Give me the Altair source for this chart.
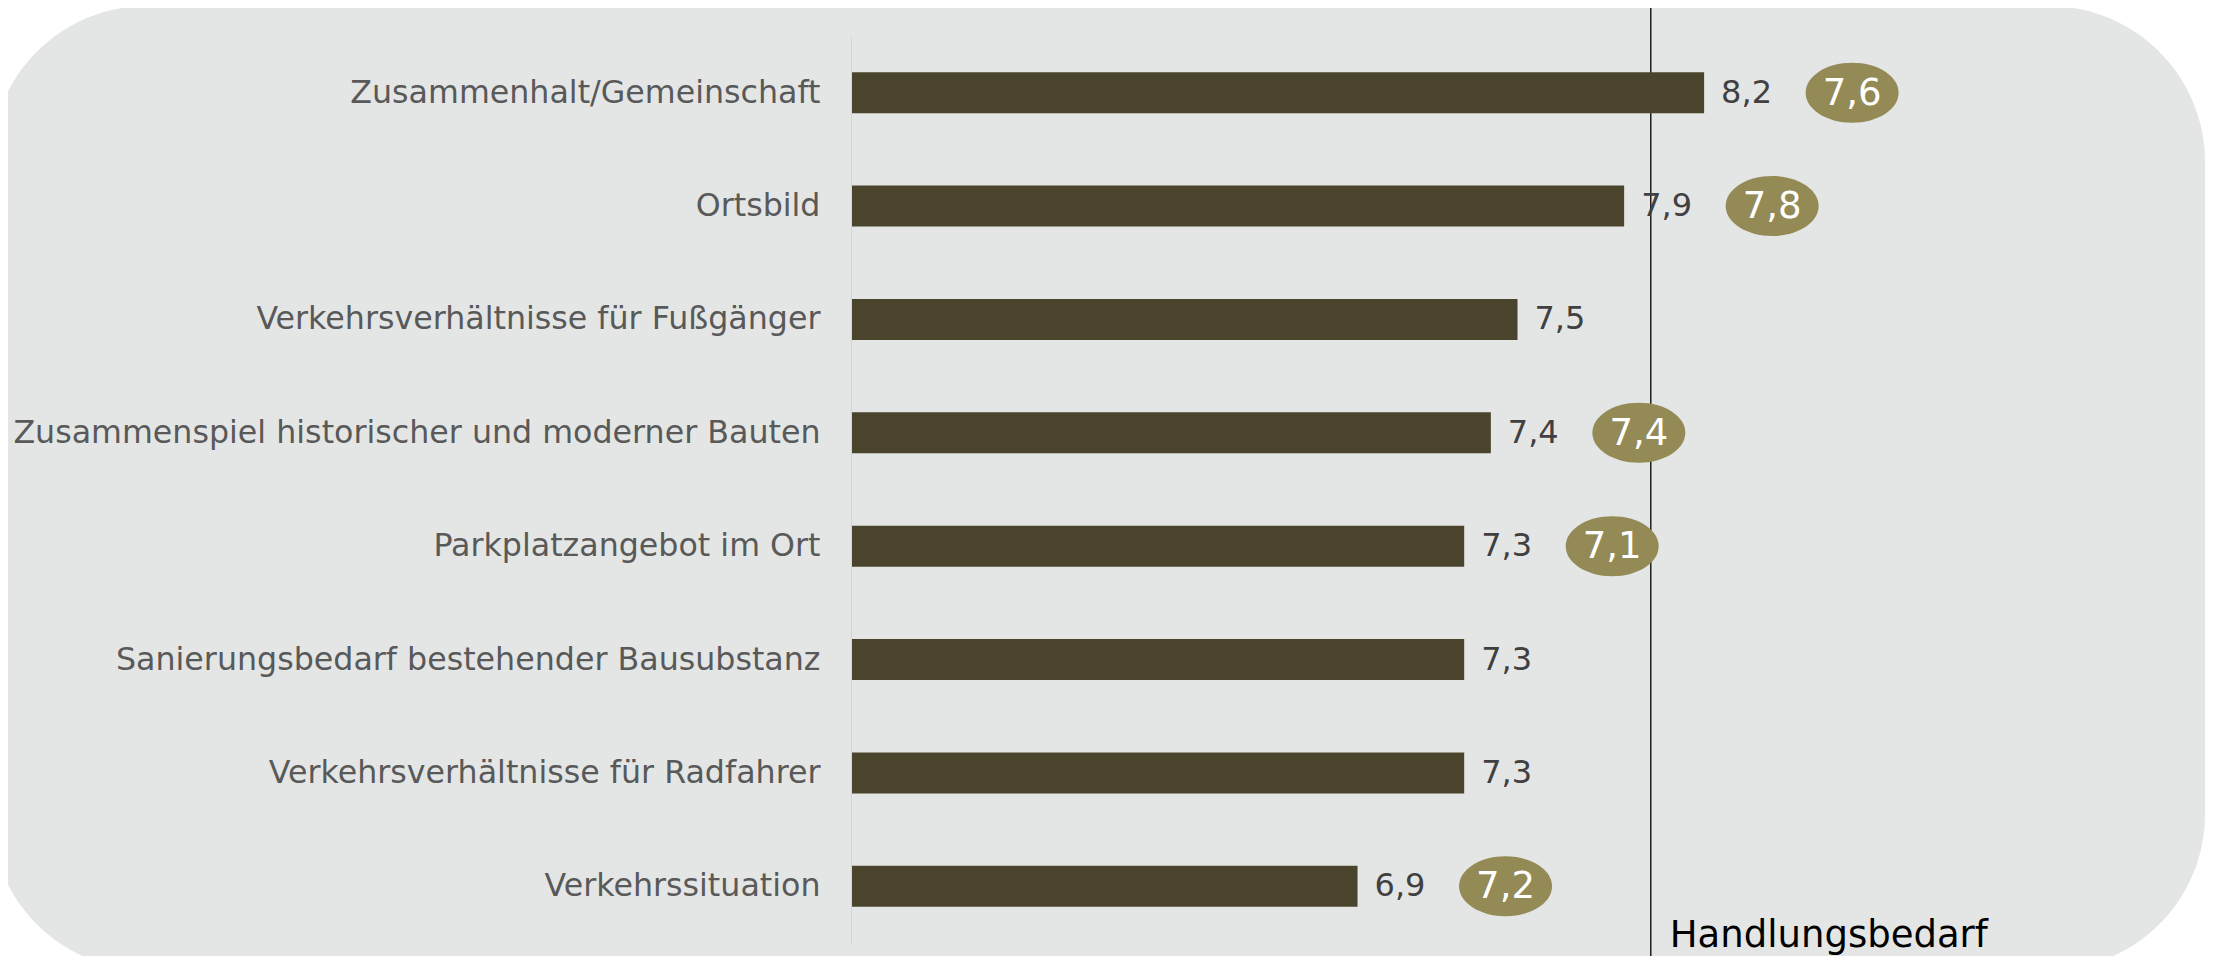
import altair as alt
import pandas as pd

categories = [
    "Zusammenhalt/Gemeinschaft",
    "Ortsbild",
    "Verkehrsverhältnisse für Fußgänger",
    "Zusammenspiel historischer und moderner Bauten",
    "Parkplatzangebot im Ort",
    "Sanierungsbedarf bestehender Bausubstanz",
    "Verkehrsverhältnisse für Radfahrer",
    "Verkehrssituation",
]
values = [8.2, 7.9, 7.5, 7.4, 7.3, 7.3, 7.3, 6.9]
comparison = [7.6, 7.8, None, 7.4, 7.1, None, None, 7.2]
threshold = 8.0
threshold_label = "Handlungsbedarf"

fmt = lambda v: f"{v:.1f}".replace(".", ",")

df = pd.DataFrame({
    "cat": categories,
    "value": values,
    "label": [fmt(v) for v in values],
    "comp": comparison,
    "comp_label": [fmt(c) if c is not None else "" for c in comparison],
})
df_comp = df[df["comp"].notna()].copy()

FONT = "DejaVu Sans"
BAR = "#4a442c"
OLIVE = "#938a55"
PANEL = "#e4e6e5"

xscale = alt.Scale(domain=[5, 10], zero=False, nice=False)
yenc = alt.Y(
    "cat:N", sort=None, title=None,
    scale=alt.Scale(paddingInner=0, paddingOuter=0),
    axis=alt.Axis(
        ticks=False, labelFontSize=31.7, labelColor="#595959", labelFont=FONT,
        labelPadding=31, domainColor="#d2d4d3", domainWidth=1, labelLimit=1000,
        zindex=1,
    ),
)

background = alt.Chart(pd.DataFrame({"a": [0]})).mark_rect(
    color=PANEL, cornerRadius=156
).encode(
    x=alt.value(-860), x2=alt.value(1354), y=alt.value(-30), y2=alt.value(934)
)

rule = alt.Chart(pd.DataFrame({"t": [threshold]})).mark_rule(
    color="black", strokeWidth=1.3
).encode(
    x=alt.X("t:Q", scale=xscale, axis=None), y=alt.value(-40), y2=alt.value(960)
)

rule_text = alt.Chart(pd.DataFrame({"t": [threshold], "txt": [threshold_label]})).mark_text(
    align="left", baseline="alphabetic", dx=19, fontSize=37, font=FONT, color="black"
).encode(
    x=alt.X("t:Q", scale=xscale, axis=None), y=alt.value(911), text="txt:N"
)

bars = alt.Chart(df).mark_bar(color=BAR, size=41).encode(
    x=alt.X("value:Q", scale=xscale, axis=None),
    x2=alt.datum(5),
    y=yenc,
)

value_text = alt.Chart(df).mark_text(
    align="left", baseline="middle", dx=17, fontSize=32, font=FONT, color="#404040"
).encode(
    x=alt.X("value:Q", scale=xscale, axis=None), y=yenc, text="label:N"
)

ellipse_path = (
    "M -1 0 C -1 -0.356 -0.552 -0.645 0 -0.645 "
    "C 0.552 -0.645 1 -0.356 1 0 "
    "C 1 0.356 0.552 0.645 0 0.645 "
    "C -0.552 0.645 -1 0.356 -1 0 Z"
)
ellipses = alt.Chart(df_comp).mark_point(
    shape=ellipse_path, size=93 * 93, filled=True, fill=OLIVE, opacity=1,
    strokeWidth=0, xOffset=148,
).encode(
    x=alt.X("value:Q", scale=xscale, axis=None), y=yenc
)

ellipse_text = alt.Chart(df_comp).mark_text(
    align="center", baseline="middle", fontSize=37, font=FONT, color="white",
    xOffset=148, dy=1,
).encode(
    x=alt.X("value:Q", scale=xscale, axis=None), y=yenc, text="comp_label:N"
)

chart = alt.layer(
    background, rule, bars, value_text, ellipses, ellipse_text, rule_text
).properties(
    width=1333, height=907,
    autosize=alt.AutoSizeParams(type="none"),
    padding={"left": 843, "top": 28, "right": 21, "bottom": 13},
    background="white",
).configure(
    font=FONT,
    view=alt.ViewConfig(stroke=None),
)

chart.save("out.html", embed_options={"renderer": "svg", "actions": False})
